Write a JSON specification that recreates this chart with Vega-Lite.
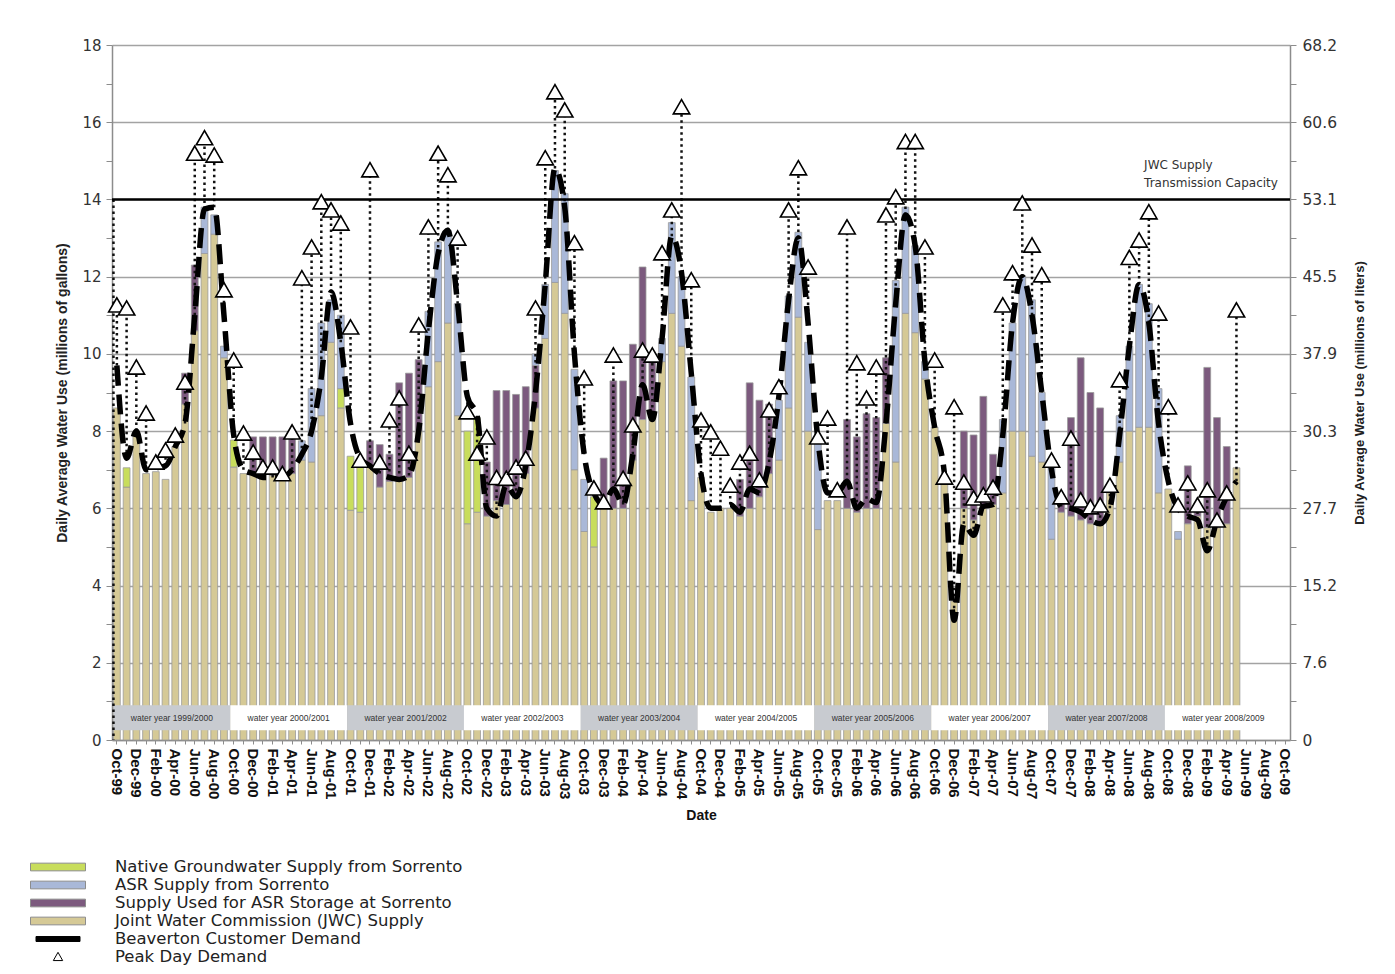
{
  "$schema": "https://vega.github.io/schema/vega-lite/v6.json",
  "width": 1178,
  "height": 695,
  "autosize": {"type": "none"},
  "padding": {"left": 112, "top": 45, "right": 105, "bottom": 234},
  "background": "white",
  "config": {"font": "Liberation Sans", "view": {"stroke": null}},
  "datasets": {
    "monthly": [
      {"month":"Oct-99","jwc":8.6,"demand":9.7,"peakDay":11.27},
      {"month":"Nov-99","jwc":6.55,"groundwater":0.5,"demand":7.3,"peakDay":11.19},
      {"month":"Dec-99","jwc":7.95,"demand":8.0,"peakDay":9.66},
      {"month":"Jan-00","jwc":6.9,"demand":7.0,"peakDay":8.47},
      {"month":"Feb-00","jwc":6.95,"demand":7.05,"peakDay":7.2},
      {"month":"Mar-00","jwc":6.75,"demand":7.1,"peakDay":7.51},
      {"month":"Apr-00","jwc":7.6,"demand":7.6,"peakDay":7.9},
      {"month":"May-00","jwc":8.7,"injection":0.8,"demand":8.2,"peakDay":9.27},
      {"month":"Jun-00","jwc":10.6,"injection":1.7,"demand":11.0,"peakDay":15.2},
      {"month":"Jul-00","jwc":12.6,"asrSupply":1.2,"demand":13.75,"peakDay":15.6},
      {"month":"Aug-00","jwc":13.1,"asrSupply":0.5,"demand":13.8,"peakDay":15.15},
      {"month":"Sep-00","jwc":9.9,"asrSupply":0.3,"demand":11.0,"peakDay":11.66},
      {"month":"Oct-00","jwc":7.07,"groundwater":0.7,"demand":7.9,"peakDay":9.84},
      {"month":"Nov-00","jwc":6.9,"demand":7.0,"peakDay":7.95},
      {"month":"Dec-00","jwc":6.9,"injection":0.95,"demand":6.9,"peakDay":7.46},
      {"month":"Jan-01","jwc":6.9,"injection":0.95,"demand":6.8,"peakDay":7.07},
      {"month":"Feb-01","jwc":6.85,"injection":1.0,"demand":6.8,"peakDay":7.07},
      {"month":"Mar-01","jwc":6.85,"injection":1.0,"demand":6.8,"peakDay":6.9},
      {"month":"Apr-01","jwc":6.9,"injection":0.9,"demand":7.0,"peakDay":7.98},
      {"month":"May-01","jwc":7.25,"asrSupply":0.5,"demand":7.4,"peakDay":11.97},
      {"month":"Jun-01","jwc":7.2,"asrSupply":1.9,"demand":8.0,"peakDay":12.77},
      {"month":"Jul-01","jwc":8.4,"asrSupply":2.4,"demand":9.4,"peakDay":13.94},
      {"month":"Aug-01","jwc":10.3,"asrSupply":1.1,"demand":11.6,"peakDay":13.73},
      {"month":"Sep-01","jwc":8.6,"groundwater":0.5,"asrSupply":1.9,"demand":10.3,"peakDay":13.39},
      {"month":"Oct-01","jwc":5.95,"groundwater":1.4,"demand":8.2,"peakDay":10.7},
      {"month":"Nov-01","jwc":5.9,"groundwater":1.2,"demand":7.3,"peakDay":7.25},
      {"month":"Dec-01","jwc":7.1,"injection":0.65,"demand":7.1,"peakDay":14.77},
      {"month":"Jan-02","jwc":6.55,"injection":1.1,"demand":6.9,"peakDay":7.2},
      {"month":"Feb-02","jwc":6.7,"injection":0.7,"demand":6.8,"peakDay":8.29},
      {"month":"Mar-02","jwc":6.7,"injection":2.55,"demand":6.75,"peakDay":8.86},
      {"month":"Apr-02","jwc":6.8,"injection":2.7,"demand":6.85,"peakDay":7.43},
      {"month":"May-02","jwc":8.0,"injection":1.85,"demand":8.0,"peakDay":10.75},
      {"month":"Jun-02","jwc":9.15,"asrSupply":1.95,"demand":10.6,"peakDay":13.29},
      {"month":"Jul-02","jwc":9.8,"asrSupply":3.1,"demand":12.6,"peakDay":15.2},
      {"month":"Aug-02","jwc":10.8,"asrSupply":2.4,"demand":13.2,"peakDay":14.64},
      {"month":"Sep-02","jwc":8.4,"asrSupply":2.9,"demand":11.3,"peakDay":13.0},
      {"month":"Oct-02","jwc":5.6,"groundwater":2.4,"demand":8.9,"peakDay":8.5},
      {"month":"Nov-02","jwc":5.9,"groundwater":2.45,"demand":8.4,"peakDay":7.43},
      {"month":"Dec-02","jwc":5.8,"injection":1.4,"demand":6.0,"peakDay":7.85},
      {"month":"Jan-03","jwc":6.2,"injection":2.85,"demand":5.8,"peakDay":6.8},
      {"month":"Feb-03","jwc":6.1,"injection":2.95,"demand":6.6,"peakDay":6.78},
      {"month":"Mar-03","jwc":6.3,"injection":2.65,"demand":6.3,"peakDay":7.07},
      {"month":"Apr-03","jwc":6.9,"injection":2.25,"demand":7.1,"peakDay":7.3},
      {"month":"May-03","jwc":8.6,"injection":1.1,"asrSupply":0.3,"demand":9.0,"peakDay":11.19},
      {"month":"Jun-03","jwc":10.4,"asrSupply":1.4,"demand":11.8,"peakDay":15.08},
      {"month":"Jul-03","jwc":11.85,"asrSupply":2.9,"demand":14.8,"peakDay":16.79},
      {"month":"Aug-03","jwc":11.05,"asrSupply":3.1,"demand":13.8,"peakDay":16.32},
      {"month":"Sep-03","jwc":7.0,"asrSupply":2.6,"demand":10.0,"peakDay":12.88},
      {"month":"Oct-03","jwc":5.4,"asrSupply":1.35,"demand":7.4,"peakDay":9.38},
      {"month":"Nov-03","jwc":5.0,"groundwater":1.3,"demand":6.4,"peakDay":6.53},
      {"month":"Dec-03","jwc":6.1,"injection":1.2,"demand":6.1,"peakDay":6.17},
      {"month":"Jan-04","jwc":6.0,"injection":3.3,"demand":6.5,"peakDay":9.97},
      {"month":"Feb-04","jwc":6.0,"injection":3.3,"demand":6.1,"peakDay":6.78},
      {"month":"Mar-04","jwc":7.25,"injection":3.0,"demand":7.4,"peakDay":8.16},
      {"month":"Apr-04","jwc":8.3,"injection":3.95,"demand":9.2,"peakDay":10.1},
      {"month":"May-04","jwc":8.4,"injection":1.6,"demand":8.3,"peakDay":9.97},
      {"month":"Jun-04","jwc":9.8,"asrSupply":0.6,"demand":10.4,"peakDay":12.62},
      {"month":"Jul-04","jwc":11.05,"asrSupply":2.35,"demand":13.05,"peakDay":13.73},
      {"month":"Aug-04","jwc":10.2,"asrSupply":1.8,"demand":12.1,"peakDay":16.4},
      {"month":"Sep-04","jwc":6.2,"asrSupply":3.2,"demand":9.5,"peakDay":11.92},
      {"month":"Oct-04","jwc":6.8,"demand":6.9,"peakDay":8.29},
      {"month":"Nov-04","jwc":5.9,"demand":6.0,"peakDay":7.98},
      {"month":"Dec-04","jwc":6.0,"demand":6.0,"peakDay":7.56},
      {"month":"Jan-05","jwc":6.0,"demand":6.1,"peakDay":6.6},
      {"month":"Feb-05","jwc":5.8,"injection":0.95,"demand":5.9,"peakDay":7.2},
      {"month":"Mar-05","jwc":6.0,"injection":3.25,"demand":6.5,"peakDay":7.43},
      {"month":"Apr-05","jwc":6.3,"injection":2.5,"demand":6.4,"peakDay":6.74},
      {"month":"May-05","jwc":6.9,"injection":1.8,"demand":7.2,"peakDay":8.55},
      {"month":"Jun-05","jwc":7.25,"asrSupply":1.55,"demand":8.9,"peakDay":9.15},
      {"month":"Jul-05","jwc":8.6,"asrSupply":2.9,"demand":11.4,"peakDay":13.73},
      {"month":"Aug-05","jwc":10.95,"asrSupply":2.2,"demand":13.0,"peakDay":14.82},
      {"month":"Sep-05","jwc":8.0,"asrSupply":2.3,"demand":10.8,"peakDay":12.25},
      {"month":"Oct-05","jwc":5.45,"asrSupply":2.4,"demand":7.8,"peakDay":7.85},
      {"month":"Nov-05","jwc":6.2,"demand":6.4,"peakDay":8.34},
      {"month":"Dec-05","jwc":6.2,"demand":6.4,"peakDay":6.48},
      {"month":"Jan-06","jwc":6.0,"injection":2.3,"demand":6.7,"peakDay":13.29},
      {"month":"Feb-06","jwc":5.9,"injection":1.95,"demand":6.0,"peakDay":9.77},
      {"month":"Mar-06","jwc":6.0,"injection":2.45,"demand":6.25,"peakDay":8.86},
      {"month":"Apr-06","jwc":6.0,"injection":2.35,"demand":6.15,"peakDay":9.66},
      {"month":"May-06","jwc":8.2,"injection":1.7,"demand":8.2,"peakDay":13.6},
      {"month":"Jun-06","jwc":7.2,"asrSupply":4.7,"demand":11.3,"peakDay":14.07},
      {"month":"Jul-06","jwc":11.05,"asrSupply":2.75,"demand":13.6,"peakDay":15.5},
      {"month":"Aug-06","jwc":10.55,"asrSupply":2.25,"demand":12.8,"peakDay":15.5},
      {"month":"Sep-06","jwc":9.35,"asrSupply":0.45,"demand":9.8,"peakDay":12.77},
      {"month":"Oct-06","jwc":8.1,"demand":8.1,"peakDay":9.84},
      {"month":"Nov-06","jwc":6.8,"demand":6.9,"peakDay":6.81},
      {"month":"Dec-06","jwc":3.6,"demand":3.1,"peakDay":8.63},
      {"month":"Jan-07","jwc":6.0,"injection":2.0,"demand":5.6,"peakDay":6.68},
      {"month":"Feb-07","jwc":5.7,"injection":2.2,"demand":5.3,"peakDay":6.27},
      {"month":"Mar-07","jwc":6.0,"injection":2.9,"demand":6.05,"peakDay":6.35},
      {"month":"Apr-07","jwc":6.1,"injection":1.3,"demand":6.1,"peakDay":6.55},
      {"month":"May-07","jwc":6.4,"asrSupply":1.9,"demand":7.9,"peakDay":11.27},
      {"month":"Jun-07","jwc":8.0,"asrSupply":2.8,"demand":10.8,"peakDay":12.1},
      {"month":"Jul-07","jwc":8.0,"asrSupply":4.0,"demand":12.0,"peakDay":13.91},
      {"month":"Aug-07","jwc":7.35,"asrSupply":4.05,"demand":11.0,"peakDay":12.82},
      {"month":"Sep-07","jwc":7.2,"asrSupply":1.8,"demand":9.0,"peakDay":12.05},
      {"month":"Oct-07","jwc":5.2,"asrSupply":1.95,"demand":7.0,"peakDay":7.25},
      {"month":"Nov-07","jwc":5.9,"injection":0.3,"demand":6.05,"peakDay":6.3},
      {"month":"Dec-07","jwc":5.8,"injection":2.55,"demand":6.0,"peakDay":7.82},
      {"month":"Jan-08","jwc":5.7,"injection":4.2,"demand":5.9,"peakDay":6.22},
      {"month":"Feb-08","jwc":5.6,"injection":3.4,"demand":5.7,"peakDay":6.04},
      {"month":"Mar-08","jwc":5.6,"injection":3.0,"demand":5.6,"peakDay":6.09},
      {"month":"Apr-08","jwc":6.4,"demand":6.0,"peakDay":6.6},
      {"month":"May-08","jwc":7.2,"asrSupply":1.2,"demand":7.9,"peakDay":9.33},
      {"month":"Jun-08","jwc":8.0,"asrSupply":2.2,"demand":10.2,"peakDay":12.5},
      {"month":"Jul-08","jwc":8.1,"asrSupply":3.7,"demand":11.8,"peakDay":12.95},
      {"month":"Aug-08","jwc":8.1,"asrSupply":3.2,"demand":10.8,"peakDay":13.68},
      {"month":"Sep-08","jwc":6.4,"asrSupply":2.7,"demand":8.2,"peakDay":11.06},
      {"month":"Oct-08","jwc":6.5,"demand":6.7,"peakDay":8.63},
      {"month":"Nov-08","jwc":5.2,"asrSupply":0.2,"demand":6.0,"peakDay":6.09},
      {"month":"Dec-08","jwc":5.6,"injection":1.5,"demand":5.8,"peakDay":6.66},
      {"month":"Jan-09","jwc":5.8,"injection":0.3,"demand":5.7,"peakDay":6.09},
      {"month":"Feb-09","jwc":5.5,"injection":4.15,"demand":4.9,"peakDay":6.48},
      {"month":"Mar-09","jwc":5.5,"injection":2.85,"demand":5.7,"peakDay":5.7},
      {"month":"Apr-09","jwc":5.6,"injection":2.0,"demand":6.3,"peakDay":6.4},
      {"month":"May-09","jwc":7.05,"demand":6.7,"peakDay":11.14}
    ],
    "waterYears": [
      {"start":"Oct-99","end":"Oct-00","mid":"Apr-00","year":1999,"label":"water year 1999/2000"},
      {"start":"Oct-00","end":"Oct-01","mid":"Apr-01","year":2000,"label":"water year 2000/2001"},
      {"start":"Oct-01","end":"Oct-02","mid":"Apr-02","year":2001,"label":"water year 2001/2002"},
      {"start":"Oct-02","end":"Oct-03","mid":"Apr-03","year":2002,"label":"water year 2002/2003"},
      {"start":"Oct-03","end":"Oct-04","mid":"Apr-04","year":2003,"label":"water year 2003/2004"},
      {"start":"Oct-04","end":"Oct-05","mid":"Apr-05","year":2004,"label":"water year 2004/2005"},
      {"start":"Oct-05","end":"Oct-06","mid":"Apr-06","year":2005,"label":"water year 2005/2006"},
      {"start":"Oct-06","end":"Oct-07","mid":"Apr-07","year":2006,"label":"water year 2006/2007"},
      {"start":"Oct-07","end":"Oct-08","mid":"Apr-08","year":2007,"label":"water year 2007/2008"},
      {"start":"Oct-08","end":"Oct-09","mid":"Apr-09","year":2008,"label":"water year 2008/2009"}
    ],
    "capacity": [{"month": "Oct-99", "capacity": 14}]
  },
  "layer": [
    {
      "data": {"name": "monthly"},
      "transform": [
        {"fold": ["jwc", "groundwater", "injection", "asrSupply"], "as": ["source", "mgd"]},
        {"filter": "datum.mgd > 0"}
      ],
      "mark": {"type": "bar", "stroke": "#9a9a9a", "strokeWidth": 0.8},
      "encoding": {
        "x": {
          "field": "month",
          "type": "ordinal",
          "sort": null,
          "scale": {
            "domain": ["Oct-99","Nov-99","Dec-99","Jan-00","Feb-00","Mar-00","Apr-00","May-00","Jun-00","Jul-00","Aug-00","Sep-00",
                       "Oct-00","Nov-00","Dec-00","Jan-01","Feb-01","Mar-01","Apr-01","May-01","Jun-01","Jul-01","Aug-01","Sep-01",
                       "Oct-01","Nov-01","Dec-01","Jan-02","Feb-02","Mar-02","Apr-02","May-02","Jun-02","Jul-02","Aug-02","Sep-02",
                       "Oct-02","Nov-02","Dec-02","Jan-03","Feb-03","Mar-03","Apr-03","May-03","Jun-03","Jul-03","Aug-03","Sep-03",
                       "Oct-03","Nov-03","Dec-03","Jan-04","Feb-04","Mar-04","Apr-04","May-04","Jun-04","Jul-04","Aug-04","Sep-04",
                       "Oct-04","Nov-04","Dec-04","Jan-05","Feb-05","Mar-05","Apr-05","May-05","Jun-05","Jul-05","Aug-05","Sep-05",
                       "Oct-05","Nov-05","Dec-05","Jan-06","Feb-06","Mar-06","Apr-06","May-06","Jun-06","Jul-06","Aug-06","Sep-06",
                       "Oct-06","Nov-06","Dec-06","Jan-07","Feb-07","Mar-07","Apr-07","May-07","Jun-07","Jul-07","Aug-07","Sep-07",
                       "Oct-07","Nov-07","Dec-07","Jan-08","Feb-08","Mar-08","Apr-08","May-08","Jun-08","Jul-08","Aug-08","Sep-08",
                       "Oct-08","Nov-08","Dec-08","Jan-09","Feb-09","Mar-09","Apr-09","May-09","Jun-09","Jul-09","Aug-09","Sep-09",
                       "Oct-09"],
            "paddingInner": 0.3
          },
          "axis": {
            "title": "Date",
            "labelAngle": 90,
            "labelAlign": "left",
            "labelBaseline": "middle",
            "labelExpr": "indexof(['Oct', 'Dec', 'Feb', 'Apr', 'Jun', 'Aug'], substring(datum.value, 0, 3)) >= 0 ? datum.value : ''",
            "labelOverlap": false,
            "labelFontSize": 15,
            "labelFontWeight": "bold",
            "labelColor": "#111111",
            "labelPadding": 4,
            "tickSize": 4,
            "tickColor": "#8c8c8c",
            "domainColor": "#8c8c8c",
            "domainWidth": 1.5,
            "titleFontSize": 14,
            "titleFontWeight": "bold",
            "titleColor": "#111111",
            "titlePadding": 10
          }
        },
        "y": {
          "field": "mgd",
          "type": "quantitative",
          "stack": "zero",
          "scale": {"domain": [0, 18], "nice": false},
          "axis": {
            "orient": "left",
            "values": [0,1,2,3,4,5,6,7,8,9,10,11,12,13,14,15,16,17,18],
            "labelExpr": "datum.value % 2 === 0 ? datum.label : ''",
            "grid": true,
            "gridColor": "#a3a3a3",
            "gridWidth": 1.5,
            "gridOpacity": {"condition": {"test": "datum.value % 2 === 1", "value": 0}, "value": 1},
            "domainColor": "#8c8c8c",
            "domainWidth": 1.5,
            "tickColor": "#8c8c8c",
            "tickSize": 6,
            "labelFont": "DejaVu Sans",
            "labelFontSize": 15,
            "labelColor": "#333333",
            "labelPadding": 5,
            "title": "Daily Average Water Use (millions of gallons)",
            "titleFontSize": 14,
            "titleFontWeight": "bold",
            "titleColor": "#222222",
            "titlePadding": 12
          }
        },
        "color": {
          "field": "source",
          "type": "nominal",
          "scale": {
            "domain": ["groundwater", "asrSupply", "injection", "jwc", "demand", "peakDay"],
            "range": ["#c8dd5c", "#a9b8d8", "#7c5a7e", "#d5c996", "#000000", "#ffffff"]
          },
          "legend": {
            "orient": "none",
            "legendX": -82,
            "legendY": 813,
            "direction": "vertical",
            "title": null,
            "padding": 0,
            "clipHeight": 18,
            "rowPadding": 0,
            "symbolSize": 3025,
            "symbolStrokeWidth": 1,
            "symbolOpacity": 1,
            "symbolType": {"expr": "datum.value === 'peakDay' ? 'M0,-0.17L0.17,0.13L-0.17,0.13Z' : datum.value === 'demand' ? 'M-0.8,-0.09H0.8V0.09H-0.8Z' : 'M-1,-0.14H1V0.14H-1Z'"},
            "symbolStrokeColor": {"expr": "datum.value === 'peakDay' || datum.value === 'demand' ? '#000000' : '#8c8c8c'"},
            "labelOffset": 29,
            "labelFont": "DejaVu Sans",
            "labelFontSize": 16.5,
            "labelColor": "#222222",
            "labelLimit": 500,
            "labelExpr": "{'groundwater': 'Native Groundwater Supply from Sorrento', 'asrSupply': 'ASR Supply from Sorrento', 'injection': 'Supply Used for ASR Storage at Sorrento', 'jwc': 'Joint Water Commission (JWC) Supply', 'demand': 'Beaverton Customer Demand', 'peakDay': 'Peak Day Demand'}[datum.value]"
          }
        }
      }
    },
    {
      "data": {"name": "waterYears"},
      "mark": {"type": "rect"},
      "encoding": {
        "x": {"field": "start", "type": "ordinal", "bandPosition": 0, "axis": null},
        "x2": {"field": "end", "bandPosition": 0},
        "y": {"datum": 0.9, "type": "quantitative", "axis": null},
        "y2": {"datum": 0.25},
        "color": {"condition": {"test": "datum.year % 2 === 1", "value": "#c8cbd0"}, "value": "#ffffff"}
      }
    },
    {
      "data": {"name": "waterYears"},
      "mark": {"type": "text", "fontSize": 8.5, "color": "#333333", "align": "center", "baseline": "middle"},
      "encoding": {
        "x": {"field": "mid", "type": "ordinal", "bandPosition": 0, "axis": null},
        "y": {"datum": 0.58, "type": "quantitative", "axis": null},
        "text": {"field": "label"}
      }
    },
    {
      "data": {"name": "capacity"},
      "mark": {"type": "rule", "strokeDash": [2.5, 3.5], "strokeWidth": 2.5, "color": "#111111"},
      "encoding": {
        "x": {"field": "month", "type": "ordinal", "bandPosition": 0, "axis": null},
        "y": {"field": "capacity", "type": "quantitative", "axis": null},
        "y2": {"datum": 0}
      }
    },
    {
      "data": {"name": "monthly"},
      "mark": {"type": "rule", "strokeDash": [2.5, 3.5], "strokeWidth": 2.5, "color": "#111111"},
      "encoding": {
        "x": {"field": "month", "type": "ordinal", "axis": null},
        "y": {"field": "demand", "type": "quantitative", "axis": null},
        "y2": {"field": "peakDay"}
      }
    },
    {
      "data": {"name": "monthly"},
      "mark": {"type": "line", "color": "#000000", "strokeWidth": 5.5, "strokeDash": [20, 9], "interpolate": "monotone"},
      "encoding": {
        "x": {"field": "month", "type": "ordinal", "axis": null},
        "y": {
          "field": "demand",
          "type": "quantitative",
          "axis": {
            "orient": "right",
            "values": [0,1,2,3,4,5,6,7,8,9,10,11,12,13,14,15,16,17,18],
            "labelExpr": "{'0': '0', '2': '7.6', '4': '15.2', '6': '27.7', '8': '30.3', '10': '37.9', '12': '45.5', '14': '53.1', '16': '60.6', '18': '68.2'}[datum.value] || ''",
            "grid": false,
            "domainColor": "#8c8c8c",
            "domainWidth": 1.5,
            "tickColor": "#8c8c8c",
            "tickSize": 6,
            "labelFont": "DejaVu Sans",
            "labelFontSize": 15.5,
            "labelColor": "#333333",
            "labelPadding": 6,
            "title": "Daily Average Water Use (millions of liters)",
            "titleAngle": 270,
            "titleFontSize": 13,
            "titleFontWeight": "bold",
            "titleColor": "#222222",
            "titlePadding": 30
          }
        }
      }
    },
    {
      "data": {"name": "capacity"},
      "mark": {"type": "rule", "color": "#000000", "strokeWidth": 2.5},
      "encoding": {
        "y": {"field": "capacity", "type": "quantitative", "axis": null}
      }
    },
    {
      "data": {"name": "monthly"},
      "mark": {"type": "point", "shape": "triangle-up", "size": 270, "filled": true, "fill": "#ffffff", "stroke": "#000000", "strokeWidth": 1.6, "opacity": 1},
      "encoding": {
        "x": {"field": "month", "type": "ordinal", "axis": null},
        "y": {"field": "peakDay", "type": "quantitative", "axis": null}
      }
    },
    {
      "data": {"name": "capacity"},
      "mark": {"type": "text", "font": "DejaVu Sans", "fontSize": 12, "color": "#333333", "align": "left", "baseline": "top", "lineHeight": 18, "dx": 5},
      "encoding": {
        "x": {"datum": "Jul-08", "type": "ordinal", "axis": null},
        "y": {"datum": 15.03, "type": "quantitative", "axis": null},
        "text": {"value": ["JWC Supply", "Transmission Capacity"]}
      }
    }
  ],
  "resolve": {"scale": {"y": "shared", "x": "shared"}, "axis": {"x": "independent", "y": "independent"}}
}
